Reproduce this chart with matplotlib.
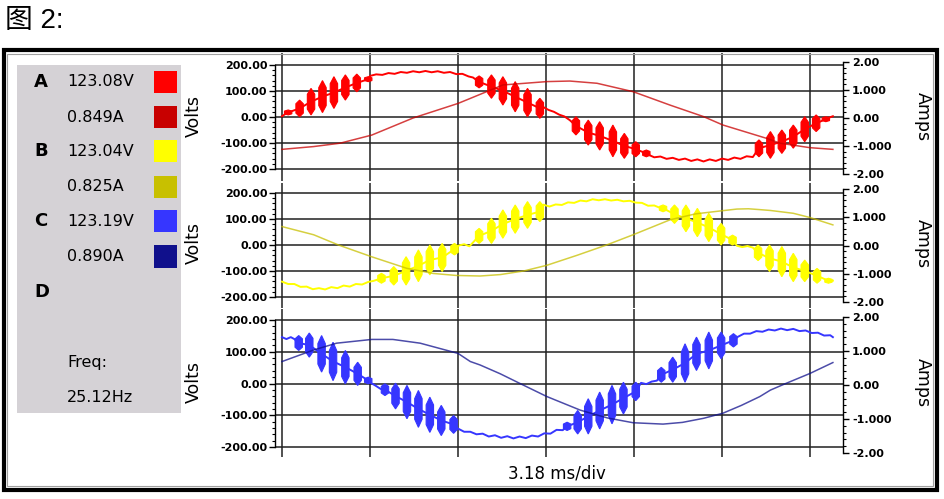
import matplotlib
matplotlib.use("Agg")
import matplotlib.pyplot as plt
from matplotlib.patches import Rectangle

W, H = 945, 499

# time axis in divisions (3.18 ms/div)
# ---------------- phase A ----------------
a_trace_t = [0.00, 0.04,
             1.00, 1.07, 1.14, 1.21, 1.28, 1.35, 1.42, 1.49, 1.56, 1.63, 1.70, 1.77, 1.84, 1.91, 1.98, 2.05, 2.12, 2.17,
             2.97, 3.03, 3.09, 3.15, 3.21, 3.27,
             4.17, 4.23, 4.30, 4.37, 4.44, 4.51, 4.58, 4.65, 4.72, 4.79, 4.86, 4.93, 5.00, 5.07, 5.14, 5.21, 5.28, 5.35,
             6.22, 6.26]
a_trace_v = [3, 12,
             158, 164, 162, 169, 166, 173, 170, 176, 172, 177, 172, 176, 170, 173, 165, 166, 156, 152,
             38, 27, 20, 9, 2, -12,
             -146, -155, -152, -161, -157, -165, -160, -169, -163, -171, -163, -169, -160, -165, -156, -161, -151, -154,
             -2, 3]
a_sp_t = [0.07, 0.20, 0.33, 0.46, 0.59, 0.72, 0.85, 0.98,
          2.24, 2.38, 2.51, 2.65, 2.79, 2.93,
          3.34, 3.48, 3.61, 3.76, 3.89, 4.02, 4.14,
          5.42, 5.55, 5.68, 5.81, 5.94, 6.07, 6.18]
a_sp_hi = [27, 65, 110, 140, 155, 162, 165, 155,
           158, 162, 155, 136, 110, 72,
           1, -12, -18, -31, -63, -95, -127,
           -88, -56, -50, -31, 1, 8, 1]
a_sp_lo = [8, 1, 8, 17, 33, 65, 97, 136,
           112, 72, 46, 20, 1, -5,
           -69, -108, -127, -153, -159, -153, -153,
           -153, -159, -140, -120, -95, -56, -18]
a_i_t = [0.00, 0.36, 0.66, 1.02, 1.49, 2.00, 2.14, 2.51, 3.01, 3.27, 3.58, 3.99, 4.41, 4.79, 5.01, 5.51, 5.66, 6.00, 6.26]
a_i = [-1.12, -1.02, -0.90, -0.61, 0.00, 0.52, 0.70, 1.18, 1.30, 1.32, 1.24, 0.94, 0.46, 0.05, -0.25, -0.73, -0.90, -1.06, -1.12]

# ---------------- phase B ----------------
b_trace_t = [0.00, 0.07, 0.14, 0.21, 0.28, 0.35, 0.42, 0.49, 0.56, 0.63, 0.70, 0.77, 0.84, 0.91, 0.98, 1.04,
             2.01, 2.07, 2.13,
             2.97, 3.04, 3.11, 3.18, 3.25, 3.32, 3.39, 3.46, 3.53, 3.60, 3.67, 3.74, 3.81, 3.88, 3.95, 4.02, 4.09,
             4.16, 4.23, 4.28,
             5.17, 5.23, 5.29, 5.35,
             6.26]
b_trace_v = [-141, -150, -150, -161, -160, -170, -166, -171, -162, -166, -156, -160, -150, -152, -142, -138,
             -2, 3, -5,
             155, 148, 156, 154, 164, 162, 171, 168, 176, 172, 176, 171, 174, 168, 170, 163, 162,
             151, 152, 145,
             -3, -8, -4, -10,
             -137]
b_sp_t = [1.13, 1.27, 1.41, 1.55, 1.68, 1.82, 1.96,
          2.24, 2.38, 2.51, 2.65, 2.79, 2.93,
          4.33, 4.46, 4.59, 4.72, 4.85, 4.99, 5.12,
          5.41, 5.54, 5.68, 5.81, 5.94, 6.08, 6.21]
b_sp_hi = [-109, -83, -45, -19, 0, 6, 6,
           64, 103, 135, 154, 167, 167,
           154, 154, 154, 141, 122, 83, 38,
           0, 0, -6, -32, -58, -90, -128]
b_sp_lo = [-147, -154, -154, -141, -115, -102, -38,
           6, 6, 26, 45, 64, 90,
           128, 83, 51, 32, 13, 0, 0,
           -60, -102, -122, -141, -141, -147, -147]
b_i_t = [0.00, 0.36, 0.64, 1.02, 1.42, 1.72, 1.98, 2.25, 2.48, 2.75, 3.01, 3.35, 3.69, 3.99, 4.41, 4.70,
         5.00, 5.17, 5.30, 5.43, 5.55, 5.81, 6.00, 6.26]
b_i = [0.67, 0.38, 0.02, -0.40, -0.81, -0.99, -1.06, -1.08, -1.03, -0.90, -0.70, -0.35, 0.02, 0.38, 0.91, 1.12,
       1.23, 1.29, 1.30, 1.27, 1.24, 1.14, 0.99, 0.73]

# ---------------- phase C ----------------
c_trace_t = [0.00, 0.05, 0.10, 0.14,
             1.01, 1.07, 1.12,
             2.00, 2.07, 2.14, 2.21, 2.28, 2.35, 2.42, 2.49, 2.56, 2.63, 2.70, 2.77, 2.84, 2.91, 2.98, 3.05, 3.12, 3.19,
             4.08, 4.14, 4.20, 4.26,
             5.18, 5.25, 5.32, 5.39, 5.46, 5.53, 5.60, 5.67, 5.74, 5.81, 5.88, 5.95, 6.02, 6.09, 6.16, 6.23, 6.26]
c_trace_v = [146, 140, 146, 140,
             2, -8, -17,
             -142, -152, -152, -160, -158, -167, -163, -171, -166, -173, -167, -172, -164, -167, -157, -158, -146, -147,
             2, -2, 6, 9,
             147, 157, 157, 165, 163, 170, 167, 173, 168, 172, 165, 167, 159, 160, 151, 152, 146]
c_sp_t = [0.19, 0.31, 0.45, 0.58, 0.72, 0.86, 0.98,
          1.17, 1.29, 1.42, 1.55, 1.68, 1.81, 1.95,
          3.24, 3.36, 3.48, 3.61, 3.75, 3.88, 4.02,
          4.31, 4.44, 4.58, 4.71, 4.85, 4.99, 5.13]
c_sp_hi = [151, 159, 151, 130, 104, 67, 20,
           -1, 1, -6, -22, -43, -69, -101,
           -122, -85, -48, -27, -6, 4, 4,
           51, 83, 125, 146, 162, 162, 157]
c_sp_lo = [104, 83, 36, 9, -1, -6, -1,
           -38, -80, -111, -138, -154, -164, -157,
           -148, -159, -159, -143, -127, -96, -54,
           4, 4, 4, 41, 46, 78, 115]
c_i_t = [0.00, 0.36, 0.62, 1.02, 1.26, 1.57, 2.00, 2.14, 2.25, 2.48, 2.70, 3.01, 3.39, 3.70, 3.99, 4.33,
         4.55, 4.79, 5.01, 5.22, 5.43, 5.55, 5.73, 6.00, 6.26]
c_i = [0.69, 1.03, 1.23, 1.34, 1.34, 1.23, 0.93, 0.69, 0.59, 0.33, 0.05, -0.34, -0.74, -0.97, -1.11, -1.15,
       -1.10, -0.98, -0.83, -0.60, -0.34, -0.15, 0.05, 0.34, 0.66]

# legend panel
phase_names = ["A", "B", "C", "D"]
volt_readings = ["123.08V", "123.04V", "123.19V"]
amp_readings = ["0.849A", "0.825A", "0.890A"]
freq_text = "25.12Hz"
volt_colors = ["#ff0000", "#ffff00", "#3636ff"]
amp_colors = ["#c80000", "#c8c000", "#10108c"]

v_ticks = [-200, -100, 0, 100, 200]
v_labels = ["-200.00", "-100.00", "0.00", "100.00", "200.00"]
i_ticks = [-2, -1, 0, 1, 2]
i_labels = ["-2.00", "-1.000", "0.00", "1.000", "2.00"]


def fx(x):
    return x / W


def fy(y):
    return 1 - y / H


fig = plt.figure(figsize=(W / 100, H / 100), dpi=100)

# title
fig.text(fx(5), fy(21), "图 2:", fontsize=20, va="center", ha="left",
         family=["Liberation Sans", "Noto Sans CJK SC"])

# outer frame
fig.add_artist(Rectangle((fx(4), fy(489.5)), fx(937.5) - fx(4), fy(50) - fy(489.5),
                         transform=fig.transFigure, fill=False, ec="black", lw=3))
fig.add_artist(Rectangle((fx(7.5), fy(486)), fx(933) - fx(7.5), fy(53.5) - fy(486),
                         transform=fig.transFigure, fill=False, ec="#a0a0a0", lw=0.8))

# grey legend box
fig.add_artist(Rectangle((fx(17), fy(413)), fx(181) - fx(17), fy(65) - fy(413),
                         transform=fig.transFigure, fc="#d5d2d6", ec="none"))
row_y = [82, 117, 151.5, 186.5, 221, 256.5]
for k in range(3):
    fig.text(fx(34), fy(row_y[2 * k]), phase_names[k], fontsize=13, weight="bold", va="center")
    fig.text(fx(67), fy(row_y[2 * k]), volt_readings[k], fontsize=11.5, va="center")
    fig.text(fx(67), fy(row_y[2 * k + 1]), amp_readings[k], fontsize=11.5, va="center")
    for j, col in enumerate([volt_colors[k], amp_colors[k]]):
        yc = row_y[2 * k + j]
        fig.add_artist(Rectangle((fx(154), fy(yc + 11)), fx(177) - fx(154), fy(yc - 11) - fy(yc + 11),
                                 transform=fig.transFigure, fc=col, ec="none"))
fig.text(fx(34), fy(292), phase_names[3], fontsize=13, weight="bold", va="center")
fig.text(fx(67), fy(363), "Freq:", fontsize=11.5, va="center")
fig.text(fx(67), fy(397), freq_text, fontsize=11.5, va="center")

# panels: (top px, bottom px, volts zero px, px per volt, amps zero px, px per amp)
panels = [
    (53, 181, 117, 0.26, 118, 28.0),
    (183, 308, 245, 0.26, 245.5, 28.25),
    (309, 457, 383.5, 0.3175, 385, 34.0),
]
data = [
    (a_trace_t, a_trace_v, a_sp_t, a_sp_hi, a_sp_lo, a_i_t, a_i),
    (b_trace_t, b_trace_v, b_sp_t, b_sp_hi, b_sp_lo, b_i_t, b_i),
    (c_trace_t, c_trace_v, c_sp_t, c_sp_hi, c_sp_lo, c_i_t, c_i),
]

x0_px, div_px, left_px, right_px = 282, 88, 275, 843
sp_w = 0.042

for k, (top, bot, vz, vpx, iz, ipx) in enumerate(panels):
    ax = fig.add_axes([fx(left_px), fy(bot), fx(right_px) - fx(left_px), fy(top) - fy(bot)])
    ax.set_xlim(-(x0_px - left_px) / div_px, (right_px - x0_px) / div_px)
    ax.set_ylim(-(bot - vz) / vpx, (vz - top) / vpx)
    ax.set_facecolor("none")
    for s in ["top", "bottom", "right"]:
        ax.spines[s].set_visible(False)
    ax.spines["left"].set_bounds(-200, 200)
    ax.spines["left"].set_linewidth(1.0)
    ax.set_xticks(range(7))
    ax.tick_params(axis="x", length=0, labelbottom=False)
    ax.set_yticks(v_ticks)
    ax.set_yticklabels(v_labels)
    ax.set_yticks(range(-200, 201, 20), minor=True)
    ax.tick_params(axis="y", which="major", length=4.5, width=1.0, pad=0.8, labelsize=8)
    ax.tick_params(axis="y", which="minor", length=2.5, width=0.8)
    for lab in ax.get_yticklabels():
        lab.set_fontweight("bold")
    ax.grid(True, which="major", color="#202020", lw=1.1)
    ax.set_axisbelow(True)

    tt, tv, st, shi, slo, it, iv = data[k]
    vcol, icol = volt_colors[k], amp_colors[k]

    # voltage trace through smooth parts and burst centres
    pts = sorted(list(zip(tt, tv)) + [(t, (h + l) / 2) for t, h, l in zip(st, shi, slo)])
    ax.plot([p[0] for p in pts], [p[1] for p in pts], color=vcol, lw=1.4, zorder=3)
    for t, h, l in zip(st, shi, slo):
        d = 0.22 * (h - l)
        ax.fill([t, t + sp_w, t + sp_w, t, t - sp_w, t - sp_w],
                [h, h - d, l + d, l, l + d, h - d], color=vcol, lw=0.8, zorder=3)

    ax2 = ax.twinx()
    ax2.set_ylim(-(bot - iz) / ipx, (iz - top) / ipx)
    for s in ["top", "bottom", "left"]:
        ax2.spines[s].set_visible(False)
    ax2.spines["right"].set_bounds(-2, 2)
    ax2.spines["right"].set_linewidth(1.0)
    ax2.set_yticks(i_ticks)
    ax2.set_yticklabels(i_labels)
    ax2.set_yticks([v / 10 for v in range(-20, 21, 2)], minor=True)
    ax2.tick_params(axis="y", which="major", length=4.5, width=1.0, pad=2, labelsize=8)
    ax2.tick_params(axis="y", which="minor", length=2.5, width=0.8)
    for lab in ax2.get_yticklabels():
        lab.set_fontweight("bold")
    ax2.plot(it, iv, color=icol, lw=1.1, alpha=0.75, zorder=4)

    yc = [116, 243, 382][k]
    fig.text(fx(194), fy(yc), "Volts", rotation=90, ha="center", va="center", fontsize=12.5)
    fig.text(fx(923), fy(yc + 1), "Amps", rotation=270, ha="center", va="center", fontsize=12.5)

fig.text(fx(557), fy(473), "3.18 ms/div", ha="center", va="center", fontsize=12)

fig.savefig("out.png", dpi=100)
